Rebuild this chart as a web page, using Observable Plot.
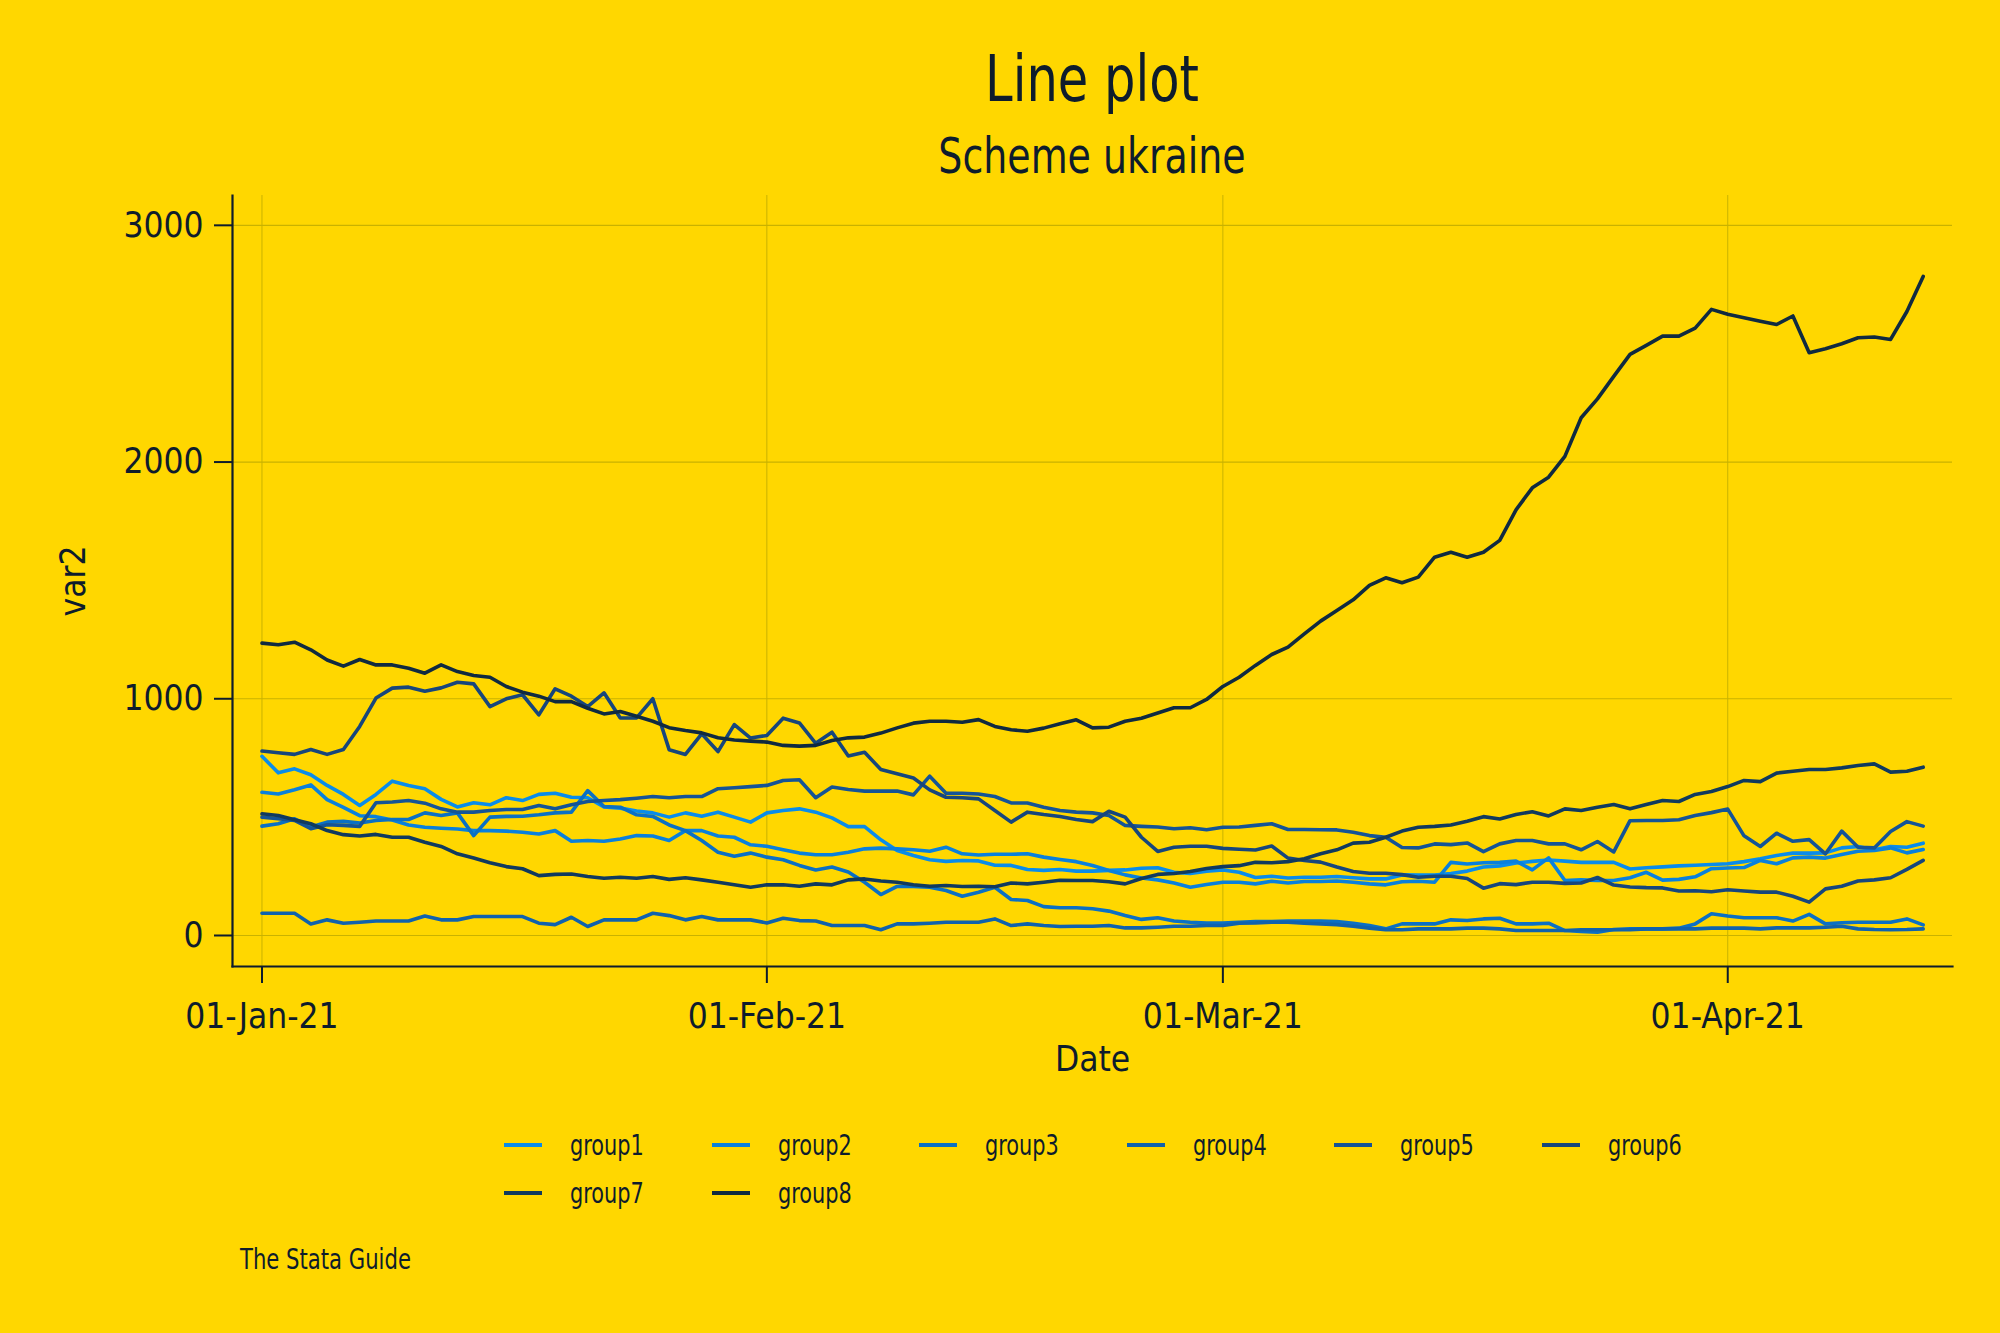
<!DOCTYPE html>
<html>
<head>
<meta charset="utf-8">
<script src="https://cdn.jsdelivr.net/npm/d3@7"></script>
<script src="https://cdn.jsdelivr.net/npm/@observablehq/plot@0.6"></script>
<style>
  html, body { margin: 0; padding: 0; background: #FFD700; }
  body { width: 2000px; height: 1333px; position: relative; overflow: hidden;
         font-family: "Liberation Sans Narrow", "Arial Narrow", "DejaVu Sans Condensed", "Roboto Condensed", sans-serif;
         font-stretch: condensed; color: #0e1c2c; }
  .t { position: absolute; white-space: nowrap; line-height: 1; }
  #title { left: 1092px; top: 79px; transform: translate(-50%, -50%) scaleX(0.86); font-size: 64px; }
  #subtitle { left: 1092px; top: 156px; transform: translate(-50%, -50%) scaleX(0.86); font-size: 49px; }
  #chart { position: absolute; left: 0; top: 180px; }
  #legend { position: absolute; left: 504px; top: 1125px; display: grid;
            grid-template-columns: repeat(6, 207.5px); row-gap: 8px; }
  .item { display: flex; align-items: center; height: 40px; font-size: 29px; }
  .item .lab { display: inline-block; transform: scaleX(0.8); transform-origin: left center; }
  .sw { width: 38px; height: 4px; margin-right: 28px; }
  #caption { left: 240px; top: 1260px; transform: translateY(-50%) scaleX(0.84); transform-origin: left center; font-size: 28px; }
</style>
</head>
<body>
<div id="title" class="t">Line plot</div>
<div id="subtitle" class="t">Scheme ukraine</div>
<div id="chart"></div>
<div id="legend"></div>
<div id="caption" class="t">The Stata Guide</div>
<script>
const groups = ["group1","group2","group3","group4","group5","group6","group7","group8"];
const colors = ["#0a8cea","#0a80dc","#0b70c4","#1062ad","#155496","#17467c","#113a5e","#102a40"];
const startDate = "2021-01-01";
const endDate = "2021-04-14"; // exclusive
const xTickDates = ["2021-01-01","2021-02-01","2021-03-01","2021-04-01"];
const yTicks = [0, 1000, 2000, 3000];

const group1 = [757,687,704,679,634,596,549,596,652,634,
  620,575,543,561,552,582,570,596,601,584,
  582,543,538,526,518,500,518,504,521,500,
  479,518,528,535,521,497,460,460,404,359,
  338,320,313,317,315,297,296,279,275,279,
  272,272,275,277,284,286,267,262,272,277,
  267,245,250,243,246,246,249,244,239,239,
  256,255,255,262,272,289,294,306,313,319,
  314,309,309,309,281,286,290,294,297,300,
  303,312,324,338,348,348,349,370,376,362,
  376,373,390];
const group2 = [605,598,616,636,574,541,506,502,488,467,
  457,453,450,443,443,441,436,429,443,398,
  401,398,408,422,420,401,443,443,420,415,
  383,377,362,348,341,341,352,366,369,366,
  362,356,373,345,340,343,343,345,331,321,
  312,296,275,256,243,235,222,204,215,225,
  225,218,229,222,228,228,230,225,218,214,
  227,229,225,309,302,307,309,314,277,328,
  232,235,232,232,244,267,234,237,248,282,
  285,287,317,303,328,331,327,342,356,359,
  370,349,363];
const group3 = [462,472,493,458,479,482,475,486,490,490,
  518,507,518,422,500,503,504,510,518,521,
  612,545,542,510,503,467,443,401,352,335,
  348,331,320,296,277,289,268,225,173,207,
  207,204,190,166,183,204,152,148,122,117,
  117,113,103,84,68,75,61,56,53,53,
  56,59,59,61,61,61,59,52,42,28,
  49,49,49,66,63,70,73,49,49,52,
  21,17,14,25,28,28,28,31,49,92,
  82,75,75,75,61,89,49,54,56,56,
  56,70,45];
const group4 = [94,94,94,49,66,52,56,61,61,61,
  82,66,66,80,80,80,80,52,46,77,
  38,66,66,66,94,84,66,80,66,66,
  66,53,73,63,61,42,42,42,24,49,
  49,52,56,56,56,70,42,49,42,38,
  39,39,42,32,32,35,39,39,42,42,
  52,53,56,56,52,49,46,39,31,24,
  24,28,28,28,31,31,28,21,21,21,
  21,24,24,24,24,28,28,28,28,31,
  31,31,28,32,32,32,35,39,28,25,
  24,25,28];
const group5 = [500,493,486,451,468,465,461,561,564,570,
  559,535,521,521,528,532,532,549,535,552,
  566,570,574,580,587,582,587,587,620,624,
  629,634,655,658,582,627,617,610,610,610,
  594,673,601,601,598,587,560,560,542,528,
  521,518,507,465,461,458,451,455,447,457,
  458,465,472,448,448,447,446,436,422,415,
  372,370,387,384,391,354,387,401,401,387,
  387,362,397,353,485,486,486,489,507,519,
  534,421,376,432,398,405,345,441,373,370,
  439,481,462];
const group6 = [779,772,765,786,765,786,883,1003,1045,1049,
  1032,1046,1070,1063,967,1000,1017,932,1042,1011,
  967,1025,919,919,1000,785,765,852,777,891,
  834,845,918,898,812,859,758,774,701,683,
  665,615,584,582,577,528,479,521,511,503,
  490,481,525,500,415,355,373,377,377,368,
  364,361,378,327,317,310,289,270,263,263,
  257,246,250,250,241,200,219,215,225,225,
  220,222,245,213,205,202,201,188,189,185,
  193,188,183,183,166,141,197,208,230,235,
  244,279,317];
const group7 = [514,507,489,472,443,426,420,427,415,415,
  394,376,345,327,307,291,282,253,258,260,
  249,242,246,242,249,237,244,235,225,214,
  204,214,214,208,218,214,235,239,230,225,
  214,208,211,207,208,206,222,218,225,233,
  232,232,227,218,241,258,262,270,283,291,
  295,309,307,312,324,345,362,390,394,415,
  441,457,461,467,483,502,492,511,523,505,
  535,528,542,553,535,553,570,566,596,608,
  629,655,650,686,694,701,701,708,718,725,
  690,694,711];
const group8 = [1235,1228,1239,1207,1164,1138,1166,1143,1143,1129,
  1108,1143,1115,1098,1091,1052,1028,1011,988,988,
  960,936,946,926,905,878,866,856,835,826,
  821,817,803,800,803,824,835,838,855,877,
  897,905,905,901,912,883,869,863,876,894,
  911,877,880,905,918,940,962,962,997,1052,
  1091,1141,1187,1218,1274,1328,1373,1418,1479,1511,
  1490,1514,1598,1619,1598,1619,1669,1798,1891,1936,
  2024,2187,2267,2362,2455,2493,2532,2532,2566,2645,
  2624,2610,2595,2581,2617,2462,2479,2500,2525,2528,
  2518,2636,2784];

const series = [group1, group2, group3, group4, group5, group6, group7, group8];
const dates = d3.utcDay.range(new Date(startDate + "T00:00Z"), new Date(endDate + "T00:00Z"));
const data = groups.flatMap((g, gi) => series[gi].map((v, i) => ({date: dates[i], value: v, group: g})));
const xTicks = xTickDates.map(s => new Date(s + "T00:00Z"));
const fmt = d3.utcFormat("%d-%b-%y");

const fontFamily = '"Liberation Sans Narrow", "Arial Narrow", "DejaVu Sans Condensed", "Roboto Condensed", sans-serif';
const gridColor = "#c9b200";
const inkColor = "#0e1c2c";

const chart = Plot.plot({
  width: 2000,
  height: 910,
  marginTop: 15,
  marginBottom: 124,
  marginLeft: 232,
  marginRight: 48,
  style: {background: "transparent", color: inkColor, fontFamily, fontStretch: "condensed"},
  x: {type: "utc", domain: [new Date("2020-12-30T04:34Z"), new Date("2021-04-14T19:12Z")]},
  y: {domain: [-131, 3126]},
  color: {domain: groups, range: colors},
  marks: [
    Plot.gridY(yTicks, {stroke: gridColor, strokeOpacity: 1, strokeWidth: 1.2}),
    Plot.gridX(xTicks, {stroke: gridColor, strokeOpacity: 1, strokeWidth: 1}),
    Plot.line(data, {x: "date", y: "value", z: "group", stroke: "group", strokeWidth: 3.6, strokeLinejoin: "round"}),
    Plot.axisY(yTicks, {tickSize: 18, tickPadding: 11, fontSize: 35, stroke: inkColor, strokeWidth: 2,
      tickFormat: d => String(d),
      label: "var2", labelAnchor: "center", labelArrow: "none", labelOffset: 172}),
    Plot.axisX(xTicks, {tickSize: 17, tickPadding: 20, fontSize: 35, stroke: inkColor, strokeWidth: 2,
      tickFormat: fmt, label: "Date", labelAnchor: "center", labelArrow: "none", labelOffset: 104}),
    Plot.frame({anchor: "left", stroke: inkColor, strokeWidth: 2.2}),
    Plot.frame({anchor: "bottom", stroke: inkColor, strokeWidth: 2.2})
  ]
});
document.getElementById("chart").appendChild(chart);

const legend = document.getElementById("legend");
groups.forEach((g, i) => {
  const item = document.createElement("div");
  item.className = "item";
  const sw = document.createElement("span");
  sw.className = "sw";
  sw.style.background = colors[i];
  const lab = document.createElement("span");
  lab.className = "lab";
  lab.textContent = g;
  item.appendChild(sw);
  item.appendChild(lab);
  legend.appendChild(item);
});
</script>
</body>
</html>
